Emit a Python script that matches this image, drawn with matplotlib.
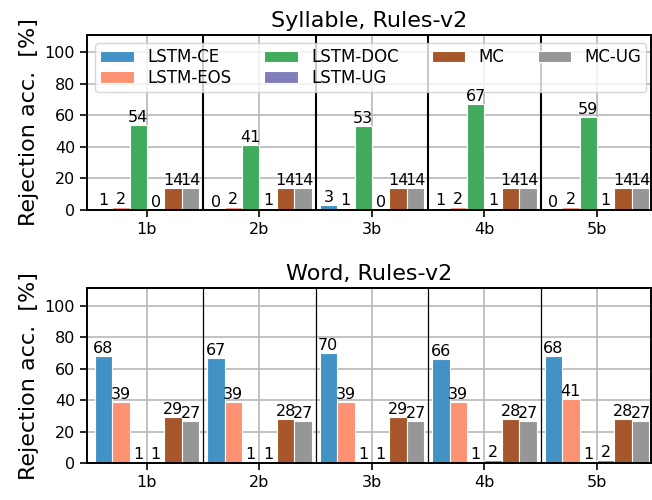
import matplotlib
matplotlib.use("Agg")
import matplotlib.pyplot as plt
import numpy as np

groups = ["1b", "2b", "3b", "4b", "5b"]
series = ["LSTM-CE", "LSTM-EOS", "LSTM-DOC", "LSTM-UG", "MC", "MC-UG"]
colors = ["#4292c6", "#fc9272", "#41ab5d", "#807dba", "#a6562a", "#969696"]

syl_ce = [1, 0, 3, 1, 0]
syl_eos = [2, 2, 1, 2, 2]
syl_doc = [54, 41, 53, 67, 59]
syl_ug = [0, 1, 0, 1, 1]
syl_mc = [14, 14, 14, 14, 14]
syl_mcug = [14, 14, 14, 14, 14]

word_ce = [68, 67, 70, 66, 68]
word_eos = [39, 39, 39, 39, 41]
word_doc = [1, 1, 1, 1, 1]
word_ug = [1, 1, 1, 2, 2]
word_mc = [29, 28, 29, 28, 28]
word_mcug = [27, 27, 27, 27, 27]

panels = [
    ("Syllable, Rules-v2", [syl_ce, syl_eos, syl_doc, syl_ug, syl_mc, syl_mcug]),
    ("Word, Rules-v2", [word_ce, word_eos, word_doc, word_ug, word_mc, word_mcug]),
]

fig = plt.figure(figsize=(6.52, 5.0), dpi=100)
ax1 = fig.add_axes([0.1334, 0.58, 0.865, 0.35])
ax2 = fig.add_axes([0.1334, 0.0736, 0.865, 0.35])

x = np.arange(len(groups))
w = 0.155
for ax, (title, data) in zip([ax1, ax2], panels):
    ax.set_axisbelow(True)
    ax.grid(True, color="#b8b8b8", linewidth=1.2)
    for i, (name, vals, c) in enumerate(zip(series, data, colors)):
        pos = x + (i - 2.5) * w
        bars = ax.bar(pos, vals, width=w, color=c, edgecolor="white", linewidth=0.8, label=name)
        for b, v in zip(bars, vals):
            ax.text(b.get_x() + b.get_width() / 2, v, f"{v}", ha="center", va="bottom",
                    fontsize=11.5, zorder=6)
    for d in x[:-1] + 0.5:
        ax.axvline(d, color="black", linewidth=1.5 if ax is ax1 else 0.9, zorder=3)
    ax.set_xlim(-0.533, 4.48)
    ax.set_ylim(0, 111)
    ax.set_yticks([0, 20, 40, 60, 80, 100])
    ax.set_xticks(x)
    ax.set_xticklabels(groups)
    ax.tick_params(labelsize=11.5, length=5, width=1.2)
    ax.set_title(title, fontsize=16)
    ax.set_ylabel("Rejection acc.  [%]", fontsize=16)
    for s in ax.spines.values():
        s.set_linewidth(1.4)

ax1.legend(ncol=4, loc="upper left", fontsize=12, labelspacing=0.15, borderpad=0.3)

fig.savefig("out.png", dpi=100)
